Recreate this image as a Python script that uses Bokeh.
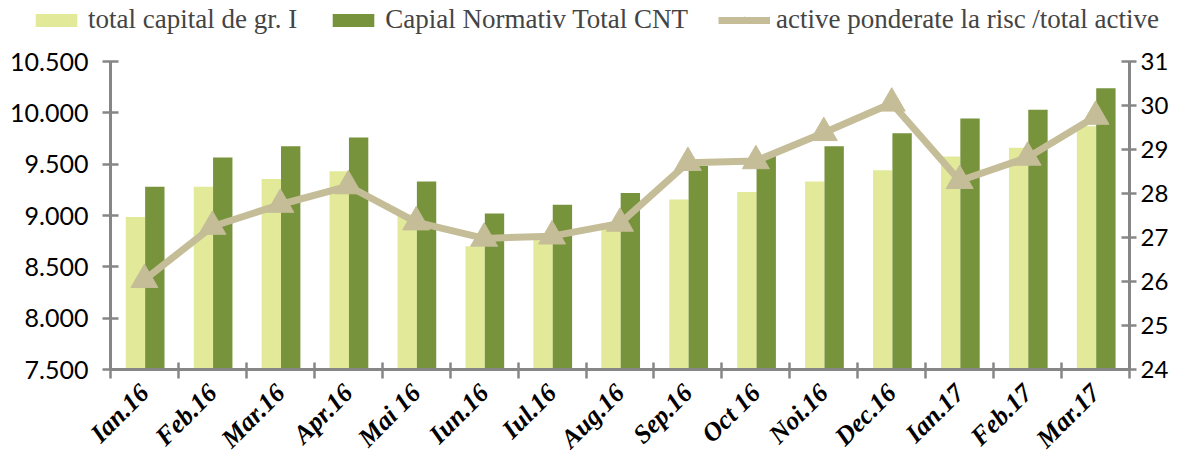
import math
from bokeh.plotting import figure
from bokeh.models import (ColumnDataSource, Range1d, LinearAxis, FixedTicker,
                          Legend, LegendItem)
from bokeh.embed import file_html
from bokeh.resources import INLINE

# ---- data ----
months = ["Ian.16", "Feb.16", "Mar.16", "Apr.16", "Mai 16", "Iun.16", "Iul.16",
          "Aug.16", "Sep.16", "Oct 16", "Noi.16", "Dec.16", "Ian.17", "Feb.17", "Mar.17"]
capital_gr1 = [8985, 9280, 9355, 9430, 9010, 8700, 8770, 8895, 9155, 9230,
               9330, 9440, 9575, 9660, 9870]
capital_cnt = [9280, 9565, 9675, 9760, 9330, 9020, 9105, 9220, 9485, 9580,
               9675, 9800, 9945, 10030, 10240]
risk_ratio = [26.04, 27.25, 27.75, 28.17, 27.35, 26.98, 27.03, 27.32, 28.70, 28.74,
              29.38, 30.05, 28.29, 28.82, 29.75]
left_ticks = [7500, 8000, 8500, 9000, 9500, 10000, 10500]
left_tick_labels = ["7.500", "8.000", "8.500", "9.000", "9.500", "10.000", "10.500"]
right_ticks = [24, 25, 26, 27, 28, 29, 30, 31]
legend_labels = ["total capital de gr. I", "Capial Normativ Total CNT",
                 "active ponderate la risc /total active"]

LIGHT = "#E2E999"
DARK = "#77933C"
TAN = "#C4BD97"
AXIS = "#868686"

# ---- layout (pixels): the frame fills the canvas, axes are fixed inside it ----
W, H = 1170, 456
PAD_L, PAD_R, PAD_T, PAD_B = 110, 41, 61, 87
L_MIN, L_MAX = 7500, 10500
R_MIN, R_MAX = 24, 31

n = len(months)
ppx = (W - PAD_L - PAD_R) / n                     # pixels per category
lpy = (L_MAX - L_MIN) / (H - PAD_T - PAD_B)       # left units per pixel
rpy = (R_MAX - R_MIN) / (H - PAD_T - PAD_B)       # right units per pixel

centers = [i + 0.5 for i in range(n)]
bw = 0.285
src = ColumnDataSource(dict(
    xc=centers,
    x1=[c - bw / 2 + 0.01 for c in centers],
    x2=[c + bw / 2 + 0.01 for c in centers],
    gr1=capital_gr1,
    cnt=capital_cnt,
    ratio=risk_ratio,
))

p = figure(width=W, height=H, output_backend="svg", toolbar_location=None,
           x_range=Range1d(-PAD_L / ppx, n + PAD_R / ppx),
           y_range=Range1d(L_MIN - PAD_B * lpy, L_MAX + PAD_T * lpy),
           x_axis_location=None, y_axis_location=None, min_border=0)
p.extra_y_ranges = {"right": Range1d(R_MIN - PAD_B * rpy, R_MAX + PAD_T * rpy)}
p.outline_line_color = None
p.xgrid.visible = False
p.ygrid.visible = False

r1 = p.vbar(x="x1", top="gr1", bottom=L_MIN, width=bw, source=src,
            fill_color=LIGHT, line_color=None)
r2 = p.vbar(x="x2", top="cnt", bottom=L_MIN, width=bw, source=src,
            fill_color=DARK, line_color=None)
r3 = p.line(x="xc", y="ratio", source=src, line_color=TAN, line_width=7,
            y_range_name="right", line_join="round")
r4 = p.scatter(x="xc", y="ratio", source=src, marker="triangle", size=27,
               fill_color=TAN, line_color=TAN, y_range_name="right")

# x axis
xa = LinearAxis(fixed_location=L_MIN, bounds=(0, n),
                ticker=FixedTicker(ticks=centers, minor_ticks=list(range(n + 1))))
xa.major_label_overrides = {c: m for c, m in zip(centers, months)}
xa.major_tick_in = 0
xa.major_tick_out = 0
xa.minor_tick_in = 7
xa.minor_tick_out = 9
xa.minor_tick_line_color = AXIS
xa.minor_tick_line_width = 2.5
xa.axis_line_color = AXIS
xa.axis_line_width = 3
xa.major_label_orientation = math.pi / 4
xa.major_label_standoff = 10
xa.major_label_text_font = "Liberation Serif"
xa.major_label_text_font_style = "bold italic"
xa.major_label_text_font_size = "26px"
xa.major_label_text_color = "black"
p.add_layout(xa, "below")

# left axis
ya = LinearAxis(fixed_location=0, bounds=(L_MIN, L_MAX),
                ticker=FixedTicker(ticks=left_ticks))
ya.major_label_overrides = {t: l for t, l in zip(left_ticks, left_tick_labels)}
ya.minor_tick_line_color = None
ya.major_tick_in = 8
ya.major_tick_out = 8
ya.major_tick_line_color = AXIS
ya.major_tick_line_width = 2.5
ya.axis_line_color = AXIS
ya.axis_line_width = 3
ya.major_label_standoff = 14
ya.major_label_text_font = "Lato"
ya.major_label_text_font_size = "25px"
ya.major_label_text_color = "black"
p.add_layout(ya, "left")

# right axis
ra = LinearAxis(y_range_name="right", fixed_location=n, bounds=(R_MIN, R_MAX),
                ticker=FixedTicker(ticks=right_ticks))
ra.minor_tick_line_color = None
ra.major_tick_in = 8
ra.major_tick_out = 7
ra.major_tick_line_color = AXIS
ra.major_tick_line_width = 2.5
ra.axis_line_color = AXIS
ra.axis_line_width = 3
ra.major_label_standoff = 4
ra.major_label_text_font = "Lato"
ra.major_label_text_font_size = "24px"
ra.major_label_text_color = "black"
p.add_layout(ra, "right")

legend = Legend(items=[
    LegendItem(label=legend_labels[0], renderers=[r1]),
    LegendItem(label=legend_labels[1], renderers=[r2]),
    LegendItem(label=legend_labels[2], renderers=[r3, r4]),
], location=(30, H - 35), orientation="horizontal")
legend.background_fill_alpha = 0
legend.border_line_alpha = 0
legend.padding = 0
legend.margin = 0
legend.spacing = 30
legend.label_standoff = 6
legend.glyph_width = 52
legend.glyph_height = 16
legend.label_text_font = "Liberation Serif"
legend.label_text_font_size = "27px"
legend.label_height = 28
p.add_layout(legend)

open("out.html", "w").write(file_html(p, INLINE))
